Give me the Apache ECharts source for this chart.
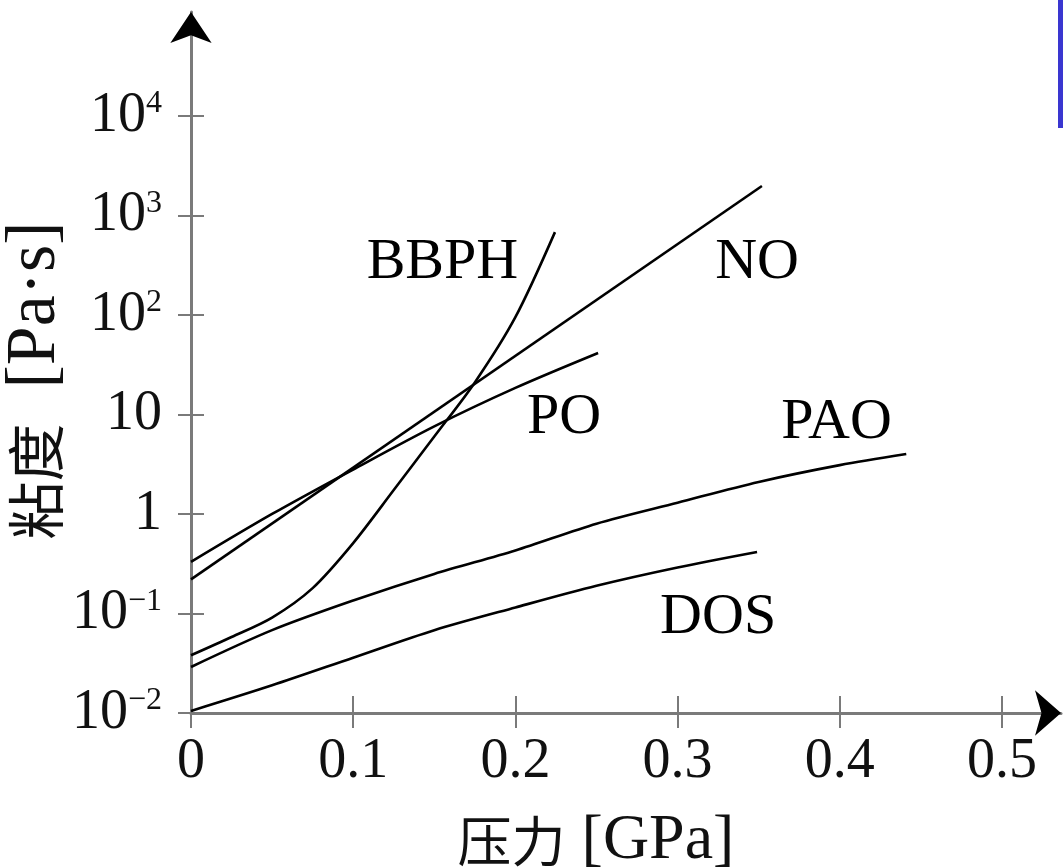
<!DOCTYPE html>
<html><head><meta charset="utf-8">
<script src="https://cdn.jsdelivr.net/npm/echarts@6/dist/echarts.min.js"></script>
<style>html,body{margin:0;padding:0;background:#fff}#c{width:1063px;height:868px}</style>
</head><body><div id="c"></div>
<script>
// tick values
const xTicks = [0, 0.1, 0.2, 0.3, 0.4, 0.5];
const yTicks = [0.01, 0.1, 1, 10, 100, 1000, 10000];

// curves: pressure [GPa] and viscosity [Pa·s]
const noP   = [0, 0.352];
const noV   = [0.22, 1980];
const poP   = [0, 0.05, 0.1, 0.15, 0.2, 0.251];
const poV   = [0.33, 1.0, 2.8, 7.6, 18.5, 41.5];
const bbphP = [0, 0.025, 0.05, 0.075, 0.1, 0.125, 0.15, 0.175, 0.2, 0.2244];
const bbphV = [0.038, 0.058, 0.091, 0.18, 0.51, 1.74, 6.0, 21, 95, 680];
const paoP  = [0, 0.05, 0.1, 0.15, 0.2, 0.25, 0.3, 0.35, 0.4, 0.441];
const paoV  = [0.029, 0.068, 0.135, 0.25, 0.43, 0.80, 1.30, 2.1, 3.1, 4.0];
const dosP  = [0, 0.05, 0.1, 0.15, 0.2, 0.25, 0.3, 0.349];
const dosV  = [0.0105, 0.019, 0.036, 0.068, 0.115, 0.19, 0.29, 0.415];

// curve labels (data coordinates)
const labelNames = ['BBPH', 'NO', 'PO', 'PAO', 'DOS'];
const labelP = [0.155, 0.349, 0.230, 0.398, 0.325];
const labelV = [333, 333, 9.2, 8.2, 0.09];

const curves = [
  ['BBPH', bbphP, bbphV], ['NO', noP, noV], ['PO', poP, poV],
  ['PAO', paoP, paoV], ['DOS', dosP, dosV]
];

const serif = 'Liberation Serif';
const cjk = 'Noto Sans CJK SC';
const axisGray = '#7a7a7a';

function yFmt(v) {
  const e = Math.round(Math.log10(v));
  if (e === 0) return '{b|1}';
  if (e === 1) return '{b|10}';
  return '{b|10}{s|' + (e < 0 ? '\u2212' + (-e) : e) + '}';
}

const xMax = 0.5364, yMin = 0.01, yMax = 110900;

const series = curves.map(c => ({
  name: c[0], type: 'line', xAxisIndex: 0, yAxisIndex: 0,
  data: c[1].map((p, i) => [p, c[2][i]]),
  showSymbol: false, smooth: 0.3,
  lineStyle: { color: '#000', width: 2.6 }, z: 5
}));
series.push({
  type: 'scatter', xAxisIndex: 0, yAxisIndex: 0, symbolSize: 1,
  itemStyle: { opacity: 0 },
  data: labelNames.map((n, i) => ({ name: n, value: [labelP[i], labelV[i]] })),
  label: { show: true, position: 'inside', formatter: '{b}', color: '#000', opacity: 1,
           textBorderWidth: 0, fontFamily: serif, fontSize: 58 },
  emphasis: { disabled: true },
  silent: true, z: 6
});

const option = {
  backgroundColor: '#fff',
  animation: false,
  grid: { left: 191, right: 2, top: 12, bottom: 155, containLabel: false, outerBoundsMode: 'none' },
  graphic: [{ type: 'rect', right: 0, top: 0, shape: { width: 5, height: 128 },
              style: { fill: '#3a36d0' } }],
  xAxis: [{
    type: 'value', min: 0, max: xMax, position: 'bottom',
    axisLine: { show: true, onZero: false, lineStyle: { color: axisGray, width: 3 } },
    axisTick: { show: true, inside: false, length: 15, customValues: xTicks,
                lineStyle: { color: axisGray, width: 2 } },
    axisLabel: { customValues: xTicks, margin: 21, color: '#111', fontFamily: serif, fontSize: 56,
                 formatter: v => String(v) },
    splitLine: { show: false },
    name: '{c|压力}{l| [GPa]}', nameLocation: 'middle', nameGap: 96,
    nameTextStyle: { padding: [0, 60, 0, 0],
      rich: { c: { fontFamily: cjk, fontSize: 54, color: '#111' },
              l: { fontFamily: serif, fontSize: 64, color: '#111' } } }
  }, {
    type: 'value', min: 0, max: xMax, position: 'bottom',
    axisLine: { show: true, onZero: false, symbol: ['none', 'arrow'], symbolSize: [34, 26],
                lineStyle: { color: '#000', opacity: 0 } },
    axisTick: { show: true, inside: true, length: 17, customValues: xTicks,
                lineStyle: { color: axisGray, width: 2 } },
    axisLabel: { show: false }, splitLine: { show: false }
  }],
  yAxis: [{
    type: 'log', logBase: 10, min: yMin, max: yMax, position: 'left',
    axisLine: { show: true, onZero: false, lineStyle: { color: axisGray, width: 3 } },
    axisTick: { show: true, inside: false, length: 13, customValues: yTicks,
                lineStyle: { color: axisGray, width: 2 } },
    axisLabel: { customValues: yTicks, margin: 29, formatter: yFmt,
      rich: { b: { fontFamily: serif, fontSize: 56, lineHeight: 56, color: '#111' },
              s: { fontFamily: serif, fontSize: 32, lineHeight: 32, verticalAlign: 'top', color: '#111' } } },
    splitLine: { show: false },
    name: '{c|粘度}{l|  [Pa·s]}', nameLocation: 'middle', nameGap: 120, nameRotate: 90,
    nameMoveOverlap: false,
    nameTextStyle: { padding: [0, 36, 0, 0],
      rich: { c: { fontFamily: cjk, fontSize: 58, color: '#111' },
              l: { fontFamily: serif, fontSize: 70, color: '#111' } } }
  }, {
    type: 'log', logBase: 10, min: yMin, max: yMax, position: 'left',
    axisLine: { show: true, onZero: false, symbol: ['none', 'arrow'], symbolSize: [31, 31],
                lineStyle: { color: '#000', opacity: 0 } },
    axisTick: { show: true, inside: true, length: 13, customValues: yTicks,
                lineStyle: { color: axisGray, width: 2 } },
    axisLabel: { show: false }, splitLine: { show: false }
  }],
  series: series
};

const chart = echarts.init(document.getElementById('c'), null, { renderer: 'canvas' });
chart.setOption(option);
</script>
</body></html>
